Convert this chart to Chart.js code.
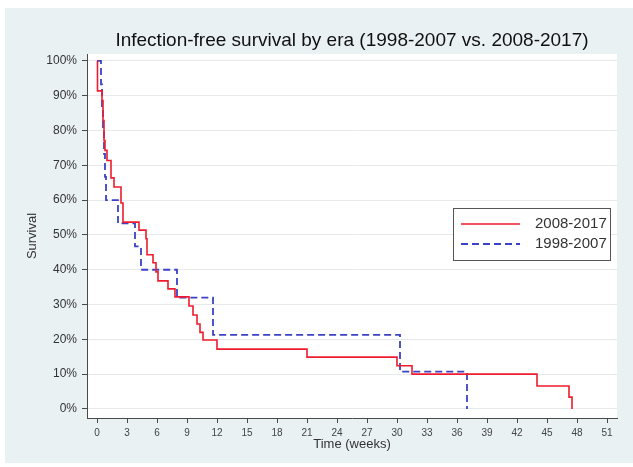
<!DOCTYPE html>
<html>
<head>
<meta charset="utf-8">
<script src="https://cdn.jsdelivr.net/npm/chart.js@4"></script>
<style>
  html, body { margin: 0; padding: 0; background: #fff; }
  #wrap { position: absolute; left: 5px; top: 8px; width: 628px; height: 455px; }
</style>
</head>
<body>
<div id="wrap"><canvas id="km"></canvas></div>
<script>
// Kaplan-Meier steps (weeks, survival %)
const RED_T = [0, 0.05, 0.5, 0.6, 0.7, 0.8, 1.0, 1.4, 1.7, 2.4, 2.6, 4.2, 4.9, 5.0, 5.6, 5.9,
               6.1, 7.1, 7.8, 9.2, 9.6, 10.0, 10.3, 10.6, 12.0, 21.0, 30.0, 31.5, 44.0, 47.2, 47.5];
const RED_S = [100, 91.4, 88.6, 82.9, 77.1, 74.3, 71.4, 66.4, 63.8, 59.2, 53.7, 51.4, 48.9, 44.3, 42, 39.4,
               36.8, 34.5, 32.2, 29.6, 27, 24.4, 22, 19.8, 17.2, 14.9, 12.4, 10, 6.6, 3.4, 0];
const BLUE_T = [0, 0.4, 0.5, 0.6, 0.7, 0.8, 0.9, 2.1, 3.8, 4.4, 8.0, 11.6, 30.3, 37.0];
const BLUE_S = [100, 93.3, 86.7, 80, 73.3, 66.7, 60, 53.3, 46.7, 40, 32, 21.3, 10.7, 0];

const X_TICKS = [0, 3, 6, 9, 12, 15, 18, 21, 24, 27, 30, 33, 36, 39, 42, 45, 48, 51];
const Y_TICKS = [0, 10, 20, 30, 40, 50, 60, 70, 80, 90, 100];

const FONT = "'Liberation Sans', Arial, sans-serif";
const AXIS = '#4a4a4a';

const toPoints = (ts, ss) => ts.map((t, i) => ({ x: t, y: ss[i] }));

// light panel behind everything, white plot region
const panel = {
  id: 'panel',
  beforeDraw(chart) {
    const { ctx, chartArea: a } = chart;
    ctx.save();
    ctx.fillStyle = '#eaf1f3';
    ctx.fillRect(0, 0, chart.width, chart.height);
    ctx.fillStyle = '#ffffff';
    ctx.fillRect(a.left, a.top, a.right - a.left, a.bottom - a.top);
    ctx.restore();
  }
};

// boxed legend sitting inside the plot
const boxLegend = {
  id: 'boxLegend',
  afterDraw(chart) {
    const { ctx } = chart;
    const x = 448, y = 200, w = 157, h = 52;
    ctx.save();
    ctx.fillStyle = '#fff';
    ctx.fillRect(x, y, w, h);
    ctx.strokeStyle = '#555';
    ctx.lineWidth = 1;
    ctx.strokeRect(x + 0.5, y + 0.5, w, h);
    ctx.font = '15px ' + FONT;
    ctx.textBaseline = 'middle';
    chart.data.datasets.forEach((ds, i) => {
      const ly = y + 16 + i * 20;
      ctx.beginPath();
      ctx.strokeStyle = ds.borderColor;
      ctx.lineWidth = ds.borderWidth;
      ctx.setLineDash(ds.borderDash || []);
      ctx.moveTo(x + 8, ly);
      ctx.lineTo(x + 67, ly);
      ctx.stroke();
      ctx.setLineDash([]);
      ctx.fillStyle = '#333';
      ctx.fillText(ds.label, x + 82, ly);
    });
    ctx.restore();
  }
};

new Chart(document.getElementById('km'), {
  type: 'line',
  data: {
    datasets: [
      {
        label: '2008-2017',
        data: toPoints(RED_T, RED_S),
        borderColor: '#ee1c2e',
        borderWidth: 1.6,
        stepped: true,
        pointRadius: 0,
        fill: false,
      },
      {
        label: '1998-2007',
        data: toPoints(BLUE_T, BLUE_S),
        borderColor: '#3b42c4',
        borderWidth: 1.8,
        borderDash: [7, 4],
        stepped: true,
        pointRadius: 0,
        fill: false,
      },
    ],
  },
  options: {
    responsive: true,
    maintainAspectRatio: false,
    animation: false,
    layout: { padding: { left: 0, right: 16, top: 0, bottom: 0 } },
    plugins: {
      legend: { display: false },
      tooltip: { enabled: false },
      title: {
        display: true,
        fullSize: false,
        text: 'Infection-free survival by era (1998-2007 vs. 2008-2017)',
        color: '#111',
        font: { family: FONT, size: 19, weight: 'normal' },
        padding: { top: 21, bottom: 2.2 },
      },
    },
    scales: {
      x: {
        type: 'linear',
        min: -1,
        max: 52,
        afterBuildTicks: (s) => { s.ticks = X_TICKS.map(v => ({ value: v })); },
        afterFit: (s) => { s.height = 45; },
        grid: { drawOnChartArea: false, tickLength: 5, tickColor: AXIS },
        border: { color: AXIS, width: 1 },
        ticks: { color: '#444', padding: 4, maxRotation: 0, autoSkip: false, font: { family: FONT, size: 10 } },
        title: {
          display: true,
          text: 'Time (weeks)',
          color: '#333',
          font: { family: FONT, size: 13 },
          padding: { top: 0, bottom: 11 },
        },
      },
      y: {
        min: -2.6,
        max: 102,
        afterBuildTicks: (s) => { s.ticks = Y_TICKS.map(v => ({ value: v })); },
        afterFit: (s) => { s.width = 82; },
        grid: { color: '#e6e9ea', tickLength: 5, tickColor: AXIS },
        border: { color: AXIS, width: 1 },
        ticks: { color: '#333', padding: 5, autoSkip: false, font: { family: FONT, size: 12 }, callback: (v) => v + '%' },
        title: {
          display: true,
          text: 'Survival',
          color: '#333',
          font: { family: FONT, size: 13 },
          padding: { top: 20, bottom: 0 },
        },
      },
    },
  },
  plugins: [panel, boxLegend],
});
</script>
</body>
</html>
